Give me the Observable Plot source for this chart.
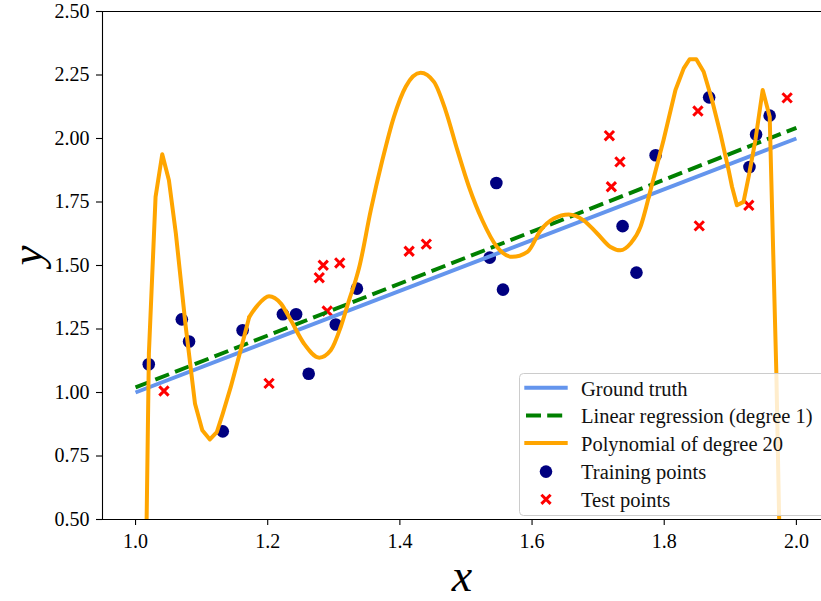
<!DOCTYPE html>
<html>
<head>
<meta charset="utf-8">
<script src="https://cdn.jsdelivr.net/npm/d3@7"></script>
<script src="https://cdn.jsdelivr.net/npm/@observablehq/plot@0.6"></script>
<style>
  html, body { margin: 0; padding: 0; background: white; overflow: hidden; }
  #wrap { position: relative; width: 821px; height: 601px; overflow: hidden; }
  #legend { position: absolute; left: 0; top: 0; }
</style>
</head>
<body>
<div id="wrap"></div>
<script>
// ---- data ----
const xTicks = [1.0, 1.2, 1.4, 1.6, 1.8, 2.0];
const yTicks = [0.5, 0.75, 1.0, 1.25, 1.5, 1.75, 2.0, 2.25, 2.5];
const xDomain = [0.95, 2.038];
const yDomain = [0.5, 2.5];

const truthX = [1.0, 2.0];
const truthY = [1.0, 2.0];

const linX = [1.0, 2.0];
const linY = [1.02, 2.042];

const polyX = [1.0, 1.0101, 1.0202, 1.0303, 1.0404, 1.0505, 1.061, 1.076, 1.090, 1.101,
  1.1125, 1.123, 1.132, 1.144, 1.159, 1.172, 1.1846, 1.202, 1.220, 1.235,
  1.255, 1.278, 1.2954, 1.3105, 1.323, 1.333, 1.338, 1.356, 1.3735, 1.391,
  1.4088, 1.4314, 1.4516, 1.469, 1.487, 1.5045, 1.5247, 1.547, 1.570, 1.593,
  1.613, 1.633, 1.6556, 1.678, 1.6986, 1.7187, 1.7338, 1.749, 1.764, 1.7766,
  1.799, 1.817, 1.8295, 1.8384, 1.8485, 1.8597, 1.8724, 1.885, 1.8975, 1.9026,
  1.910, 1.920, 1.9277, 1.938, 1.949, 1.9596, 1.9697, 1.9798, 1.99, 2.0];
const polyY = [-3.5, -0.77, 1.154, 1.770, 1.938, 1.836, 1.626, 1.258, 0.956, 0.851,
  0.815, 0.844, 0.917, 1.021, 1.166, 1.297, 1.343, 1.379, 1.350, 1.284,
  1.192, 1.137, 1.166, 1.258, 1.363, 1.442, 1.488, 1.718, 1.915, 2.0855,
  2.204, 2.259, 2.223, 2.112, 1.954, 1.810, 1.678, 1.573, 1.534, 1.5535,
  1.639, 1.685, 1.701, 1.678, 1.626, 1.573, 1.560, 1.5865, 1.652, 1.770,
  1.994, 2.191, 2.276, 2.312, 2.312, 2.263, 2.151, 2.020, 1.875, 1.810,
  1.737, 1.7505, 1.849, 1.994, 2.191, 2.0855, 1.075, -0.29, -3.0, -6.0];
// x range where the polynomial is drawn smooth (elsewhere it shows its sampling kinks)
const polySmoothRange = [1.172, 1.7766];

const trainX = [1.020, 1.070, 1.081, 1.132, 1.162, 1.223, 1.243, 1.262, 1.303, 1.335,
  1.546, 1.536, 1.556, 1.787, 1.737, 1.758, 1.868, 1.929, 1.939, 1.9595];
const trainY = [1.111, 1.288, 1.201, 0.847, 1.245, 1.308, 1.308, 1.074, 1.268, 1.409,
  1.825, 1.531, 1.405, 1.934, 1.655, 1.472, 2.162, 1.888, 2.016, 2.090];

const testX = [1.043, 1.202, 1.278, 1.284, 1.309, 1.290, 1.414, 1.440, 1.717, 1.733,
  1.720, 1.851, 1.853, 1.928, 1.986];
const testY = [1.006, 1.036, 1.452, 1.501, 1.510, 1.321, 1.556, 1.584, 2.011, 1.908,
  1.810, 2.108, 1.656, 1.737, 2.160];

const legendLabels = ["Ground truth", "Linear regression (degree 1)", "Polynomial of degree 20",
  "Training points", "Test points"];

// ---- colours ----
const cTruth = "#6495ED", cLin = "#008000", cPoly = "#FFA500", cTrain = "#000080", cTest = "#FF0000";
const font = "'Liberation Serif', 'DejaVu Serif', serif";

const truth = truthX.map((x, i) => ({x, y: truthY[i]}));
const lin = linX.map((x, i) => ({x, y: linY[i]}));
const poly = polyX.map((x, i) => ({x, y: polyY[i]}));
const polyLeft = poly.filter(d => d.x <= polySmoothRange[0]);
const polyMid = poly.filter(d => d.x >= polySmoothRange[0] && d.x <= polySmoothRange[1]);
const polyRight = poly.filter(d => d.x >= polySmoothRange[1]);
const train = trainX.map((x, i) => ({x, y: trainY[i]}));
const test = testX.map((x, i) => ({x, y: testY[i]}));

const polyStyle = {x: "x", y: "y", stroke: cPoly, strokeWidth: 4, strokeLinejoin: "round", clip: true};

const chart = Plot.plot({
  width: 821,
  height: 601,
  marginLeft: 102,
  marginRight: 0,
  marginTop: 11,
  marginBottom: 82,
  x: {domain: xDomain},
  y: {domain: yDomain},
  style: {fontFamily: font, fontSize: "20px", color: "black", background: "white", overflow: "visible"},
  marks: [
    Plot.dot(train, {x: "x", y: "y", r: 6.3, fill: cTrain, clip: true}),
    Plot.dot(test, {x: "x", y: "y", r: 4.3, symbol: "times", stroke: cTest, strokeWidth: 3, clip: true}),
    Plot.line(truth, {x: "x", y: "y", stroke: cTruth, strokeWidth: 4, strokeLinecap: "butt", clip: true}),
    Plot.line(lin, {x: "x", y: "y", stroke: cLin, strokeWidth: 4, strokeDasharray: "14.8,6.4", strokeLinecap: "butt", clip: true}),
    Plot.line(polyLeft, {...polyStyle, curve: "linear"}),
    Plot.line(polyMid, {...polyStyle, curve: "monotone-x"}),
    Plot.line(polyRight, {...polyStyle, curve: "linear"}),
    Plot.ruleY([yDomain[1]], {stroke: "black", strokeWidth: 1.1}),
    Plot.ruleY([yDomain[0]], {stroke: "black", strokeWidth: 1.1}),
    Plot.ruleX([xDomain[0]], {stroke: "black", strokeWidth: 1.1}),
    Plot.axisY({ticks: yTicks, tickFormat: d3.format(".2f"), tickSize: 6, tickPadding: 7, label: null, strokeWidth: 1.1}),
    Plot.axisX({ticks: xTicks, tickFormat: d3.format(".1f"), tickSize: 6, tickPadding: 8, label: null, strokeWidth: 1.1}),
    Plot.text(["x"], {frameAnchor: "bottom", text: d => d, dy: 71, lineAnchor: "bottom", fontSize: 46, fontStyle: "italic", fill: "black"}),
    Plot.text(["y"], {frameAnchor: "left", text: d => d, rotate: -90, dx: -61, lineAnchor: "bottom", fontSize: 45, fontStyle: "italic", fill: "black"})
  ]
});
document.getElementById("wrap").appendChild(chart);

// ---- legend overlay ----
const ns = "http://www.w3.org/2000/svg";
const lg = document.createElementNS(ns, "svg");
lg.setAttribute("id", "legend");
lg.setAttribute("width", 821);
lg.setAttribute("height", 601);
lg.style.pointerEvents = "none";
function el(tag, attrs) {
  const e = document.createElementNS(ns, tag);
  for (const k in attrs) e.setAttribute(k, attrs[k]);
  lg.appendChild(e);
  return e;
}
el("rect", {x: 519.5, y: 373.5, width: 320, height: 142, rx: 4, fill: "white", "fill-opacity": 0.8, stroke: "#cccccc", "stroke-width": 1});
const rowBase = [395.7, 423.4, 451.1, 478.8, 506.5];
const rowMid = rowBase.map(b => b - 8);
el("line", {x1: 524.3, x2: 567.7, y1: rowMid[0], y2: rowMid[0], stroke: cTruth, "stroke-width": 4});
el("line", {x1: 526, x2: 562.2, y1: rowMid[1], y2: rowMid[1], stroke: cLin, "stroke-width": 4, "stroke-dasharray": "15,6.2"});
el("line", {x1: 524.3, x2: 567.7, y1: rowMid[2], y2: rowMid[2], stroke: cPoly, "stroke-width": 4});
el("circle", {cx: 546, cy: rowMid[3] + 0.8, r: 6.3, fill: cTrain});
const tx = 546, ty = rowMid[4] + 0.8, tr = 4.6;
el("path", {d: `M${tx - tr},${ty - tr}L${tx + tr},${ty + tr}M${tx - tr},${ty + tr}L${tx + tr},${ty - tr}`, stroke: cTest, "stroke-width": 3, fill: "none"});
legendLabels.forEach((t, i) => {
  const e = el("text", {x: 581, y: rowBase[i], "font-family": font, "font-size": "20.5px", fill: "#111"});
  e.textContent = t;
});
document.getElementById("wrap").appendChild(lg);
</script>
</body>
</html>
